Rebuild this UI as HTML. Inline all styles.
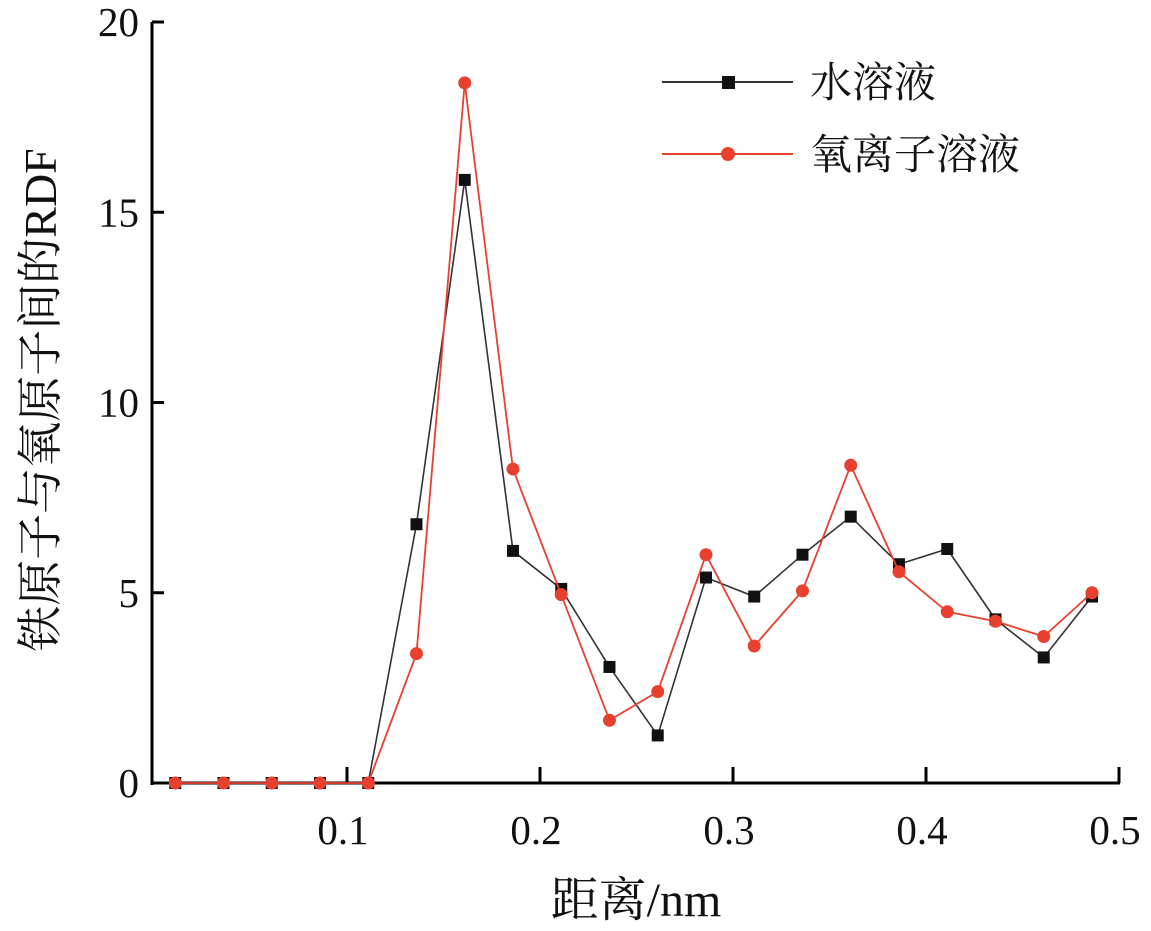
<!DOCTYPE html>
<html><head><meta charset="utf-8"><style>
body{margin:0;background:#fff;width:1151px;height:926px;overflow:hidden}
text{font-family:"Liberation Serif","Noto Serif CJK SC",serif;fill:#111}
</style></head><body>
<svg id="chart" width="1151" height="926" viewBox="0 0 1151 926" xmlns="http://www.w3.org/2000/svg"></svg>
<script>
const xValues=[0.011,0.036,0.061,0.086,0.111,0.136,0.161,0.186,0.211,0.236,0.261,0.286,0.311,0.336,0.361,0.386,0.411,0.436,0.461,0.486];
const waterValues=[0,0,0,0,0,6.8,15.85,6.1,5.1,3.05,1.25,5.4,4.9,6.0,7.0,5.75,6.15,4.3,3.3,4.9];
const oxygenValues=[0,0,0,0,0,3.4,18.4,8.25,4.95,1.65,2.4,6.0,3.6,5.05,8.35,5.55,4.5,4.25,3.85,5.0];
const xTicks=[0.1,0.2,0.3,0.4,0.5];
const xTickLabels=["0.1","0.2","0.3","0.4","0.5"];
const yTicks=[0,5,10,15,20];
const yTickLabels=["0","5","10","15","20"];
const seriesNames=["水溶液","氧离子溶液"];

const svg=document.getElementById('chart');
const NS='http://www.w3.org/2000/svg';
const X=v=>154+v*1930;
const Y=v=>783-v*38.05;
function mk(tag,attrs,parent){const e=document.createElementNS(NS,tag);for(const k in attrs)e.setAttribute(k,attrs[k]);(parent||svg).appendChild(e);return e;}

let a=mk('line',{x1:152,y1:22,x2:152,y2:785,stroke:'#000','stroke-width':3});


a=mk('line',{x1:151,y1:783,x2:1120,y2:783,stroke:'#000','stroke-width':3});



yTicks.forEach((t,i)=>{
  const tk=mk('line',{x1:152,y1:Y(t),x2:164,y2:Y(t),stroke:'#000','stroke-width':3});
  
  
  const tx=mk('text',{x:139,y:Y(t)+14,'text-anchor':'end','font-size':41});
  tx.textContent=yTickLabels[i];
  
  
});
xTicks.forEach((t,i)=>{
  const tk=mk('line',{x1:X(t),y1:783,x2:X(t),y2:767,stroke:'#000','stroke-width':3});
  
  
  const tx=mk('text',{x:X(t)-4,y:844,'text-anchor':'middle','font-size':41});
  tx.textContent=xTickLabels[i];
  
  
});

let t=mk('text',{x:636,y:916,'text-anchor':'middle','font-size':48});
t.textContent='距离/nm';


t=mk('text',{x:0,y:0,'text-anchor':'middle','font-size':46,transform:'translate(56,400) rotate(-90)'});
t.textContent='铁原子与氧原子间的RDF';



function series(vals,color,width,marker,name){
  const g=mk('g',{});
  
  
  const p=mk('polyline',{points:vals.map((v,i)=>X(xValues[i])+','+Y(v)).join(' '),fill:'none',stroke:color,'stroke-width':width},g);
  
  
  vals.forEach((v,i)=>{
    let m;
    if(marker==='square')m=mk('rect',{x:X(xValues[i])-6,y:Y(v)-6,width:12,height:12,fill:'#111'},g);
    else m=mk('circle',{cx:X(xValues[i]),cy:Y(v),r:6.5,fill:'#e8402f'},g);
    
    
  });
}
series(waterValues,'#333',1.6,'square','water-series');
series(oxygenValues,'#e8402f',1.8,'circle','oxygen-series');

function legend(y,color,marker,label,name){
  const g=mk('g',{});
  
  
  mk('line',{x1:662,y1:y,x2:793,y2:y,stroke:color,'stroke-width':2},g);
  if(marker==='square')mk('rect',{x:722,y:y-6,width:13,height:13,fill:'#111'},g);
  else mk('circle',{cx:728,cy:y,r:7,fill:'#e8402f'},g);
  const tx=mk('text',{x:810,y:y+15,'font-size':42},g);
  tx.textContent=label;
}
legend(82,'#333','square',seriesNames[0],'legend-entry-water');
legend(154,'#e8402f','circle',seriesNames[1],'legend-entry-oxygen');
</script>
</body></html>
